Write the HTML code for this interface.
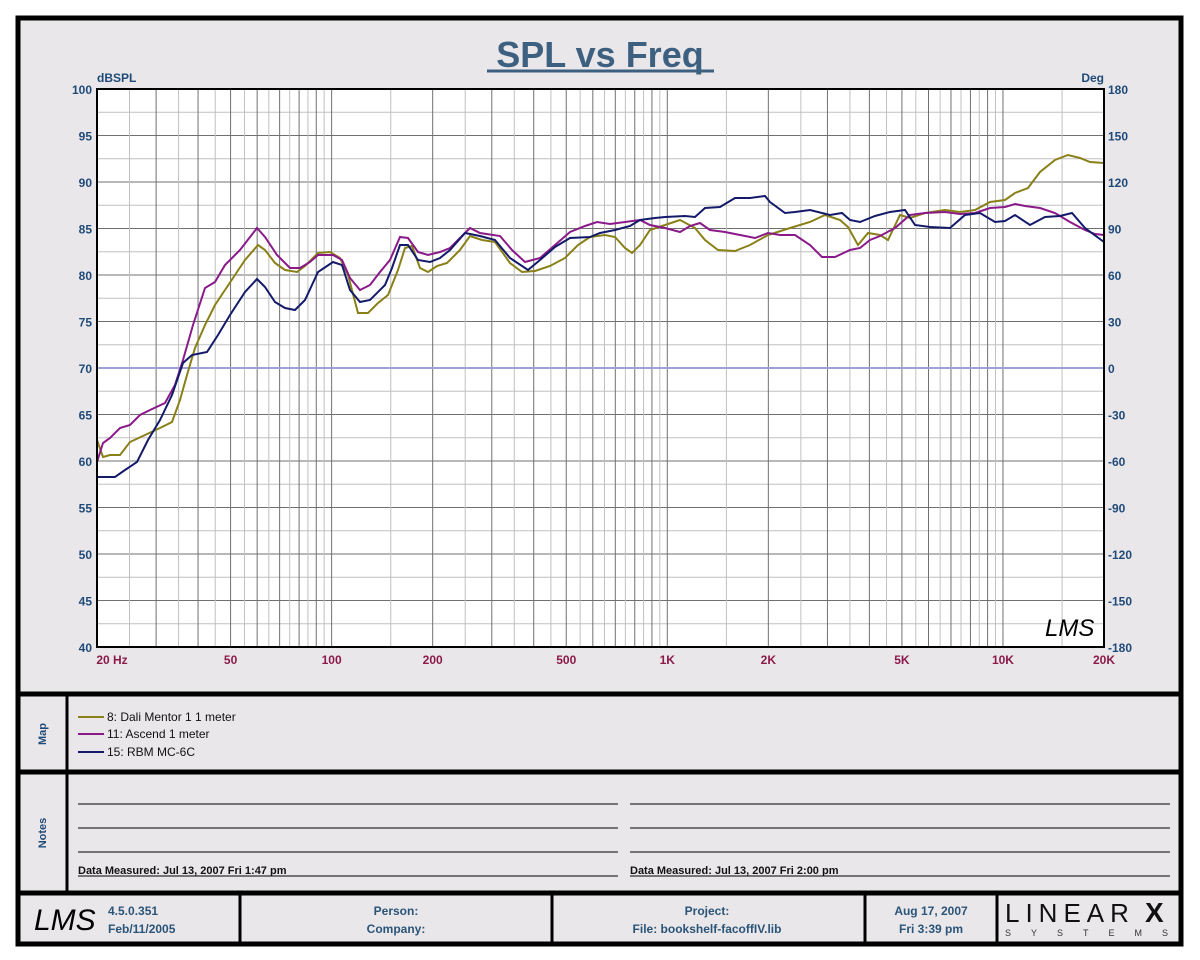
<!DOCTYPE html>
<html><head><meta charset="utf-8">
<style>
body{margin:0;background:#fff;}
svg{display:block;}
text{font-family:"Liberation Sans",Arial,sans-serif;}
</style></head><body>
<svg id="s" width="1200" height="960" xmlns="http://www.w3.org/2000/svg">
<rect x="0" y="0" width="1200" height="960" fill="#fff"/>
<rect x="18" y="18" width="1163" height="926" fill="#e9e7ea" stroke="#000" stroke-width="5"/>
<line x1="18" y1="694" x2="1181" y2="694" stroke="#000" stroke-width="5"/>
<line x1="18" y1="772" x2="1181" y2="772" stroke="#000" stroke-width="5"/>
<line x1="18" y1="893" x2="1181" y2="893" stroke="#000" stroke-width="5"/>
<line x1="67" y1="694" x2="67" y2="893" stroke="#000" stroke-width="3"/>
<line x1="240" y1="893" x2="240" y2="944" stroke="#000" stroke-width="3"/>
<line x1="552" y1="893" x2="552" y2="944" stroke="#000" stroke-width="3"/>
<line x1="865" y1="893" x2="865" y2="944" stroke="#000" stroke-width="3"/>
<line x1="997" y1="893" x2="997" y2="944" stroke="#000" stroke-width="3"/>
<text x="600" y="67" text-anchor="middle" font-size="36" font-weight="bold" fill="#3d6080">SPL vs Freq</text>
<line x1="487" y1="71" x2="714" y2="71" stroke="#3d6080" stroke-width="3"/>
<text x="97" y="82" font-size="12" font-weight="bold" fill="#1f4a78">dBSPL</text>
<text x="1104" y="82" font-size="12" font-weight="bold" fill="#1f4a78" text-anchor="end">Deg</text>
<rect x="97" y="89" width="1007" height="558" fill="#fff"/>
<g id="grid"></g>
<g id="labels" font-size="12" font-weight="bold"></g>
<line x1="97" y1="368" x2="1104" y2="368" stroke="#a0a0d8" stroke-width="2"/>
<polyline fill="none" stroke="#8a8018" stroke-width="2" points="97,440 103,457 110,455 120,455 130,442 145,435 160,428 172,422 180,400 187,375 195,348 205,325 215,305 225,290 235,275 245,260 258,245 265,250 275,263 285,270 297,272 305,266 318,253 330,252 340,258 348,275 358,313 368,313 378,303 388,295 398,270 405,248 412,246 420,268 428,272 437,266 447,263 460,250 470,236 482,240 495,242 510,263 522,272 535,271 550,266 565,258 578,245 590,237 605,235 615,237 625,248 632,253 640,245 650,230 665,225 680,220 695,228 705,240 718,250 735,251 750,245 768,235 790,228 810,222 825,215 840,220 848,227 858,245 868,233 880,235 888,240 900,215 910,218 925,213 945,210 960,212 975,210 990,202 1005,200 1015,193 1028,188 1040,172 1055,160 1068,155 1080,158 1090,162 1104,163"/>
<polyline fill="none" stroke="#8a1a8a" stroke-width="2" points="97,462 103,443 110,438 120,428 130,425 140,415 150,410 165,403 175,385 183,360 193,325 205,288 215,282 225,265 240,250 257,228 265,237 277,255 290,268 300,268 310,262 318,255 333,255 342,260 350,278 360,290 370,285 380,272 390,260 400,237 408,238 418,252 428,255 440,252 450,248 460,238 470,228 480,233 500,236 512,250 525,262 540,258 555,245 570,232 585,226 597,222 610,224 625,222 640,220 650,225 665,228 680,232 690,226 700,223 710,230 725,232 740,235 755,238 768,233 780,235 795,235 810,245 822,257 835,257 850,250 860,248 870,240 880,236 895,228 910,215 925,213 945,212 960,214 975,213 990,208 1005,207 1015,204 1025,206 1040,208 1055,213 1070,222 1085,230 1095,234 1104,235"/>
<polyline fill="none" stroke="#141a6a" stroke-width="2" points="97,477 115,477 125,470 137,462 148,440 160,420 172,395 183,363 192,355 207,352 218,335 230,315 245,292 257,279 265,287 275,302 285,308 295,310 305,300 318,272 333,262 342,265 350,290 360,302 370,300 385,285 392,268 400,245 408,245 418,260 430,262 440,258 450,250 465,233 480,236 495,240 510,258 528,270 540,260 555,247 570,238 590,237 600,233 615,230 630,226 640,220 655,218 665,217 685,216 695,217 705,208 720,207 735,198 750,198 765,196 770,202 785,213 795,212 810,210 830,215 842,213 850,220 860,222 875,216 890,212 905,210 915,225 930,227 950,228 965,215 980,213 995,222 1005,221 1015,215 1030,225 1045,217 1060,216 1072,213 1085,228 1104,242"/>
<rect x="97" y="89" width="1007" height="558" fill="none" stroke="#000" stroke-width="2"/>
<text x="1045" y="636" font-size="24" font-style="italic" font-family="Liberation Serif,serif" fill="#000">LMS</text>
<text transform="translate(46,734) rotate(-90)" text-anchor="middle" font-size="11" font-weight="bold" fill="#1f4a78">Map</text>
<text transform="translate(46,833) rotate(-90)" text-anchor="middle" font-size="11" font-weight="bold" fill="#1f4a78">Notes</text>
<g font-size="12" fill="#111">
<line x1="78" y1="717" x2="104" y2="717" stroke="#8a8018" stroke-width="2"/><text x="107" y="721">8: Dali Mentor 1  1 meter</text>
<line x1="78" y1="734" x2="104" y2="734" stroke="#8a1a8a" stroke-width="2"/><text x="107" y="738">11: Ascend 1 meter</text>
<line x1="78" y1="752" x2="104" y2="752" stroke="#141a6a" stroke-width="2"/><text x="107" y="756">15: RBM MC-6C</text>
</g>
<g stroke="#000" stroke-width="1">
<line x1="78" y1="804" x2="618" y2="804"/><line x1="78" y1="828" x2="618" y2="828"/><line x1="78" y1="852" x2="618" y2="852"/><line x1="78" y1="876" x2="618" y2="876"/>
<line x1="630" y1="804" x2="1170" y2="804"/><line x1="630" y1="828" x2="1170" y2="828"/><line x1="630" y1="852" x2="1170" y2="852"/><line x1="630" y1="876" x2="1170" y2="876"/>
</g>
<g font-size="11" font-weight="bold" fill="#111">
<text x="78" y="874">Data Measured: Jul 13, 2007  Fri  1:47 pm</text>
<text x="630" y="874">Data Measured: Jul 13, 2007  Fri  2:00 pm</text>
</g>
<text x="34" y="930" font-size="30" font-style="italic" font-family="Liberation Serif,serif">LMS</text>
<g font-size="12" font-weight="bold" fill="#2a5478">
<text x="108" y="915" font-family="Liberation Serif,serif">4.5.0.351</text>
<text x="108" y="933" font-family="Liberation Serif,serif">Feb/11/2005</text>
</g>
<g font-size="12" font-weight="bold" fill="#2a5478" text-anchor="middle">
<text x="396" y="915">Person:</text><text x="396" y="933">Company:</text>
<text x="707" y="915">Project:</text><text x="707" y="933">File: bookshelf-facoffIV.lib</text>
<text x="931" y="915">Aug 17, 2007</text><text x="931" y="933">Fri  3:39 pm</text>
</g>
<text x="1005" y="922" font-size="26" font-family="Liberation Serif,serif" letter-spacing="6" fill="#111">LINEAR</text>
<text x="1145" y="922" font-size="28" font-weight="bold" fill="#111">X</text>
<text x="1005" y="936" font-size="9" letter-spacing="20" fill="#333">SYSTEMS</text>
</svg>
<script>
var NS="http://www.w3.org/2000/svg",g=document.getElementById('grid'),L=document.getElementById('labels');
function X(f){return 97+335.67*Math.log10(f/20);}
function Y(d){return 89+(100-d)*9.3;}
function ln(x1,y1,x2,y2,c){var l=document.createElementNS(NS,'line');l.setAttribute('x1',x1);l.setAttribute('y1',y1);l.setAttribute('x2',x2);l.setAttribute('y2',y2);l.setAttribute('stroke',c);l.setAttribute('stroke-width',1);g.appendChild(l);}
function tx(x,y,s,a,c){var t=document.createElementNS(NS,'text');t.setAttribute('x',x);t.setAttribute('y',y);t.setAttribute('text-anchor',a);t.setAttribute('fill',c);t.textContent=s;L.appendChild(t);}
for(var d=40;d<=100;d+=2.5){var y=Y(d);ln(97,y,1104,y,d%5==0?'#707070':'#c0c0c0');}
[10,100,1000,10000].forEach(function(dec){for(var m=1;m<10;m+=0.5){var f=dec*m;if(f<=20||f>=20000)continue;ln(X(f),89,X(f),647,(m%1==0)?'#707070':'#c0c0c0');}});
for(var d=40;d<=100;d+=5){tx(92,Y(d)+5,''+d,'end','#1f4a78');tx(1108,Y(d)+5,''+((d-70)*6),'start','#1f4a78');}
[[20,'20  Hz'],[50,'50'],[100,'100'],[200,'200'],[500,'500'],[1000,'1K'],[2000,'2K'],[5000,'5K'],[10000,'10K'],[20000,'20K']].forEach(function(p){tx(p[0]==20?112:X(p[0]),664,p[1],'middle','#8b1a4a');});
</script>
</body></html>
